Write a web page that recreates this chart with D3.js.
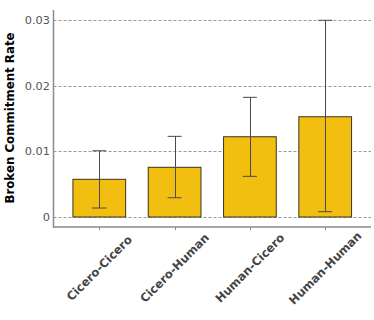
<!DOCTYPE html>
<html>
<head>
<meta charset="utf-8">
<script src="https://cdn.jsdelivr.net/npm/d3@7"></script>
<style>
  html, body { margin: 0; padding: 0; background: #fff; }
  svg { display: block; }
</style>
</head>
<body>
<svg id="chart" width="374" height="320"></svg>
<script>
const categories = ["Cicero-Cicero", "Cicero-Human", "Human-Cicero", "Human-Human"];
const rates = [0.00575, 0.00758, 0.01224, 0.01529];
const errLow = [0.00137, 0.00294, 0.0062, 0.00081];
const errHigh = [0.0101, 0.0123, 0.01825, 0.0300];
const yTicks = [0, 0.01, 0.02, 0.03];
const yTickLabels = ["0", "0.01", "0.02", "0.03"];
const yTitle = "Broken Commitment Rate";

const svg = d3.select("#chart");
const left = 53.5, right = 371, axisY = 227;

const x = d3.scaleBand().domain(categories).range([left, right]).paddingInner(0.3).paddingOuter(0.258);
const y = d3.scaleLinear().domain([0, 0.03]).range([217, 20.3]);

// gridlines
svg.append("g").selectAll("line").data(yTicks).join("line")
  .attr("x1", left).attr("x2", right)
  .attr("y1", d => Math.round(y(d)) + 0.5).attr("y2", d => Math.round(y(d)) + 0.5)
  .attr("stroke", "#9a9a9a").attr("stroke-width", 1).attr("stroke-dasharray", "3,2");

// y tick labels
svg.append("g").selectAll("text").data(yTicks).join("text")
  .attr("x", 50).attr("y", d => y(d)).attr("dy", "0.35em")
  .attr("text-anchor", "end")
  .attr("font-family", "DejaVu Sans").attr("font-size", 11.3).attr("fill", "#555")
  .text((d, i) => yTickLabels[i]);

// bars
const data = categories.map((c, i) => ({c, v: rates[i], lo: errLow[i], hi: errHigh[i]}));
svg.append("g").selectAll("rect").data(data).join("rect")
  .attr("x", d => x(d.c)).attr("width", x.bandwidth())
  .attr("y", d => y(d.v)).attr("height", d => y(0) - y(d.v))
  .attr("fill", "#F2BE10").attr("stroke", "#3a3420").attr("stroke-width", 1);

// error bars
const eg = svg.append("g").attr("stroke", "#4a4a4a").attr("stroke-width", 1);
eg.selectAll("line.v").data(data).join("line").attr("class", "v")
  .attr("x1", d => Math.round(x(d.c) + x.bandwidth() / 2) + 0.5)
  .attr("x2", d => Math.round(x(d.c) + x.bandwidth() / 2) + 0.5)
  .attr("y1", d => y(d.lo)).attr("y2", d => y(d.hi));
eg.selectAll("line.t").data(data).join("line").attr("class", "t")
  .attr("x1", d => x(d.c) + x.bandwidth() / 2 - 7).attr("x2", d => x(d.c) + x.bandwidth() / 2 + 7)
  .attr("y1", d => y(d.hi)).attr("y2", d => y(d.hi));
eg.selectAll("line.b").data(data).join("line").attr("class", "b")
  .attr("x1", d => x(d.c) + x.bandwidth() / 2 - 7).attr("x2", d => x(d.c) + x.bandwidth() / 2 + 7)
  .attr("y1", d => y(d.lo)).attr("y2", d => y(d.lo));

// axes lines
svg.append("line").attr("x1", left).attr("x2", left).attr("y1", 10).attr("y2", axisY + 0.75)
  .attr("stroke", "#8a8a8a").attr("stroke-width", 1.5);
svg.append("line").attr("x1", left).attr("x2", right).attr("y1", axisY).attr("y2", axisY)
  .attr("stroke", "#8a8a8a").attr("stroke-width", 1.5);

// x ticks
svg.append("g").selectAll("line").data(categories).join("line")
  .attr("x1", d => Math.round(x(d) + x.bandwidth() / 2) + 0.5)
  .attr("x2", d => Math.round(x(d) + x.bandwidth() / 2) + 0.5)
  .attr("y1", axisY).attr("y2", axisY + 3)
  .attr("stroke", "#8a8a8a").attr("stroke-width", 1);

// x labels
svg.append("g").selectAll("text").data(categories).join("text")
  .attr("transform", d => `translate(${x(d) + x.bandwidth() / 2},${268}) rotate(-45)`)
  .attr("text-anchor", "middle").attr("dy", "0.35em")
  .attr("font-family", "DejaVu Sans").attr("font-weight", "bold").attr("font-size", 11.6)
  .attr("fill", "#444")
  .text(d => d);

// y title
svg.append("text")
  .attr("transform", `translate(14,${(32 + 204) / 2}) rotate(-90)`)
  .attr("text-anchor", "middle")
  .attr("font-family", "DejaVu Sans").attr("font-weight", "bold").attr("font-size", 11.8)
  .attr("fill", "#000")
  .text(yTitle);
</script>
</body>
</html>
